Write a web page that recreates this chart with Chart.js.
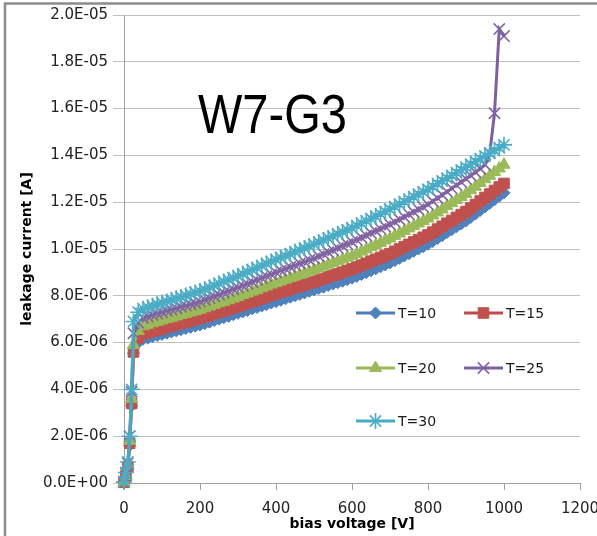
<!DOCTYPE html>
<html><head><meta charset="utf-8">
<script src="https://cdn.jsdelivr.net/npm/chart.js@4/dist/chart.umd.min.js"></script>
<style>html,body{margin:0;padding:0;background:#fff;overflow:hidden}canvas{display:block}</style>
</head><body>
<canvas id="c" width="597" height="536"></canvas>
<script>
// bias voltage [V]
const voltages = [0,5,10,15,20,25,37.5,50,62.5,75,87.5,100,
112.5,125,137.5,150,162.5,175,187.5,200,
212.5,225,237.5,250,262.5,275,287.5,300,
312.5,325,337.5,350,362.5,375,387.5,400,
412.5,425,437.5,450,462.5,475,487.5,500,
512.5,525,537.5,550,562.5,575,587.5,600,
612.5,625,637.5,650,662.5,675,687.5,700,
712.5,725,737.5,750,762.5,775,787.5,800,
812.5,825,837.5,850,862.5,875,887.5,900,
912.5,925,937.5,950,962.5,975,987.5,1000];

// leakage current, in microamperes (1E-06 A)
const seriesNames = ['T=10','T=15','T=20','T=25','T=30'];
const t10 = [0.02,0.22,0.6,1.6,3.3,5.55, 6.00,6.14,6.19,6.25,6.30,6.35,
6.40,6.45,6.50,6.55,6.60,6.65,6.70,6.75,
6.81,6.87,6.94,7.00,7.06,7.12,7.19,7.25,
7.31,7.37,7.44,7.50,7.56,7.62,7.69,7.75,
7.81,7.87,7.94,8.00,8.06,8.12,8.19,8.25,
8.31,8.37,8.44,8.50,8.56,8.62,8.69,8.75,
8.83,8.91,8.99,9.07,9.15,9.24,9.32,9.40,
9.50,9.60,9.70,9.80,9.90,10.00,10.10,10.20,
10.32,10.45,10.57,10.70,10.82,10.95,11.07,11.20,
11.35,11.50,11.65,11.80,11.95,12.10,12.25,12.40];
const t15 = [0.03,0.3,0.7,1.7,3.4,5.6, 6.20,6.38,6.43,6.49,6.54,6.60,
6.66,6.71,6.77,6.83,6.88,6.94,6.99,7.05,
7.11,7.17,7.24,7.30,7.36,7.42,7.49,7.55,
7.62,7.69,7.76,7.83,7.89,7.96,8.03,8.10,
8.16,8.22,8.29,8.35,8.41,8.47,8.54,8.60,
8.67,8.74,8.81,8.88,8.94,9.01,9.08,9.15,
9.23,9.31,9.39,9.48,9.56,9.64,9.72,9.80,
9.90,10.00,10.10,10.20,10.30,10.40,10.50,10.60,
10.72,10.85,10.97,11.10,11.22,11.35,11.47,11.60,
11.75,11.90,12.05,12.20,12.35,12.50,12.65,12.80];
const t20 = [0.03,0.3,0.75,1.8,3.6,5.9, 6.50,6.70,6.76,6.83,6.89,6.95,
7.01,7.06,7.12,7.18,7.23,7.29,7.34,7.40,
7.47,7.54,7.61,7.68,7.74,7.81,7.88,7.95,
8.03,8.10,8.18,8.25,8.33,8.40,8.48,8.55,
8.62,8.69,8.76,8.83,8.89,8.96,9.03,9.10,
9.18,9.25,9.33,9.40,9.48,9.55,9.63,9.70,
9.79,9.89,9.98,10.08,10.17,10.26,10.36,10.45,
10.56,10.66,10.77,10.88,10.98,11.09,11.19,11.30,
11.43,11.56,11.69,11.83,11.96,12.09,12.22,12.35,
12.51,12.66,12.82,12.98,13.13,13.29,13.44,13.60];
const t25 = [0.04,0.4,0.85,2.0,3.9,6.4, 6.85,7.05,7.11,7.18,7.24,7.30,
7.36,7.41,7.47,7.53,7.58,7.64,7.69,7.75,
7.83,7.90,7.98,8.05,8.13,8.20,8.28,8.35,
8.43,8.51,8.59,8.68,8.76,8.84,8.92,9.00,
9.08,9.15,9.23,9.30,9.38,9.45,9.53,9.60,
9.69,9.78,9.86,9.95,10.04,10.13,10.21,10.30,
10.39,10.49,10.58,10.68,10.77,10.86,10.96,11.05,
11.16,11.26,11.37,11.48,11.58,11.69,11.79,11.90,
12.04,12.18,12.31,12.45,12.59,12.73,12.86,13.00,
13.14,13.28,13.43,13.60,14.10,15.80,19.40,19.10];
const t30 = [0.05,0.45,0.9,2.0,4.0,6.9, 7.30,7.45,7.51,7.58,7.64,7.70,
7.76,7.83,7.89,7.95,8.01,8.08,8.14,8.20,
8.28,8.36,8.44,8.53,8.61,8.69,8.77,8.85,
8.94,9.03,9.11,9.20,9.29,9.38,9.46,9.55,
9.63,9.71,9.79,9.88,9.96,10.04,10.12,10.20,
10.29,10.38,10.46,10.55,10.64,10.73,10.81,10.90,
11.00,11.10,11.20,11.30,11.40,11.50,11.60,11.70,
11.81,11.91,12.02,12.13,12.23,12.34,12.44,12.55,
12.67,12.79,12.91,13.03,13.14,13.26,13.38,13.50,
13.62,13.74,13.86,13.98,14.09,14.21,14.33,14.45];

const yTickLabels = ['0.0E+00','2.0E-06','4.0E-06','6.0E-06','8.0E-06','1.0E-05','1.2E-05','1.4E-05','1.6E-05','1.8E-05','2.0E-05'];
const xTickLabels = ['0','200','400','600','800','1000','1200'];
const chartTitle = 'W7-G3';

const allSeries = [t10,t15,t20,t25,t30];
const lineColors = ['#4A7EBB','#BE4B48','#98B954','#7D60A0','#46AAC5'];
const markColors = ['#4F81BD','#C0504D','#9BBB59','#8064A2','#4BACC6'];
const styles = ['rectRot','rect','triangle','crossRot','star'];
const radii = [6,7.5,7,8,8];
const bws = [1,1,1,1.6,1.6];

const datasets = allSeries.map((arr,i)=>({
  label: seriesNames[i],
  data: voltages.map((v,k)=>({x:v,y:arr[k]})),
  borderColor: lineColors[i],
  backgroundColor: markColors[i],
  pointBackgroundColor: markColors[i],
  pointBorderColor: markColors[i],
  pointStyle: styles[i],
  pointRadius: radii[i],
  pointBorderWidth: bws[i],
  borderWidth: 3,
  tension: 0,
  clip: false,
  order: 4 - i
}));

const bgPlugin = {
  id:'bg',
  beforeDraw(chart){
    const c=chart.ctx; c.save(); c.fillStyle='#fff'; c.fillRect(0,0,chart.width,chart.height); c.restore();
  },
  afterDraw(chart){
    const c=chart.ctx;
    c.save();
    c.strokeStyle='#8C8C8C'; c.lineWidth=2.5;
    c.beginPath(); c.moveTo(5,536); c.lineTo(5,3.5); c.lineTo(597,3.5); c.stroke();
    c.fillStyle='#000'; c.font='47px "Liberation Sans", Arial, sans-serif';
    c.textBaseline='alphabetic'; c.textAlign='left';
    c.translate(198,133); c.scale(1,1.2); c.fillText(chartTitle,0,0);
    c.restore();
    const pos=[[356,313],[464,313],[356,368],[464,368],[356,421]];
    chart.data.datasets.forEach((ds,i)=>{
      const [x,y]=pos[i];
      c.save();
      c.strokeStyle=ds.borderColor; c.lineWidth=3; c.lineCap='butt';
      c.beginPath(); c.moveTo(x,y); c.lineTo(x+39,y); c.stroke();
      c.fillStyle=ds.pointBackgroundColor; c.strokeStyle=ds.pointBorderColor; c.lineWidth=ds.pointBorderWidth;
      Chart.helpers.drawPoint(c,{pointStyle:ds.pointStyle,radius:ds.pointRadius,rotation:0,borderWidth:ds.pointBorderWidth},x+19.5,y);
      c.fillStyle='#1a1a1a'; c.font='14px "DejaVu Sans"'; c.textBaseline='middle'; c.textAlign='left';
      c.fillText(ds.label,x+42,y+1);
      c.restore();
    });
  }
};

Chart.defaults.font.family='"DejaVu Sans", sans-serif';
new Chart(document.getElementById('c'),{
  type:'line',
  data:{datasets},
  options:{
    responsive:false, animation:false, devicePixelRatio:1,
    layout:{padding:{left:0,right:17,top:15,bottom:0}},
    plugins:{legend:{display:false},tooltip:{enabled:false}},
    scales:{
      x:{type:'linear',min:0,max:1200,
        ticks:{stepSize:200,callback:(v,i)=>xTickLabels[i],font:{size:15},color:'#222',padding:10,maxRotation:0,autoSkip:false},
        grid:{drawOnChartArea:false,drawTicks:true,tickLength:7,color:'#A0A0A0'},
        border:{color:'#A0A0A0',width:1},
        title:{display:true,text:'bias voltage [V]',font:{size:14,weight:'bold'},color:'#000',padding:{top:0,bottom:3}},
        afterFit(s){s.height=53;s.paddingRight=0;s.paddingLeft=0;}
      },
      y:{type:'linear',min:0,max:20,
        ticks:{stepSize:2,callback:(v,i)=>yTickLabels[i],font:{size:15},color:'#222',padding:5},
        grid:{color:'#BFBFBF',tickLength:11},
        border:{color:'#A0A0A0',width:1},
        title:{display:true,text:'leakage current [A]',font:{size:14,weight:'bold'},color:'#000',padding:{top:19,bottom:0}},
        afterFit(s){s.width=124;}
      }
    }
  },
  plugins:[bgPlugin]
});
</script>
</body></html>
